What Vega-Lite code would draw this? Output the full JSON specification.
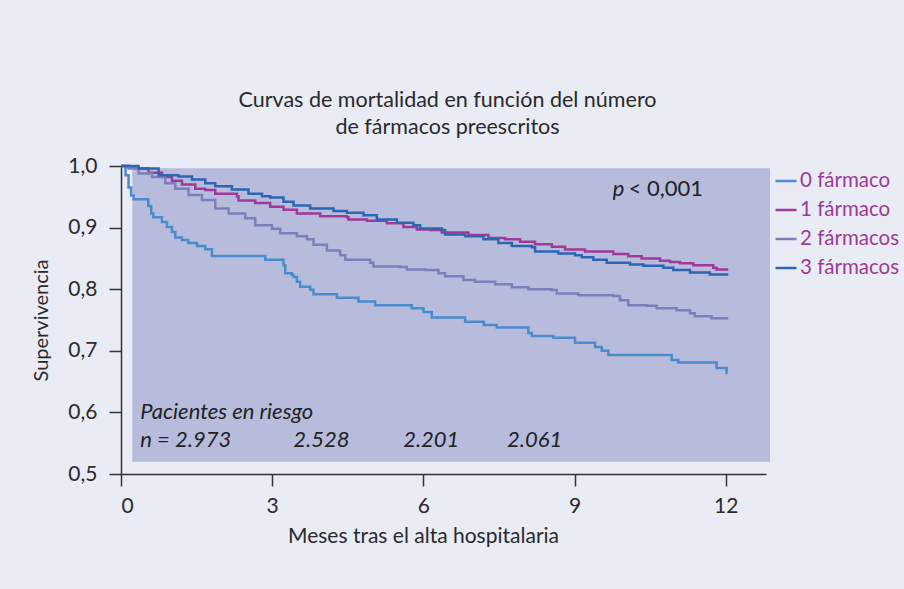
{
  "$schema": "https://vega.github.io/schema/vega-lite/v6.json",
  "autosize": {"type": "none"},
  "width": 645,
  "height": 308,
  "padding": {"left": 121, "top": 166, "right": 138, "bottom": 115},
  "background": "#e9ebf5",
  "config": {
    "view": {"stroke": null},
    "font": "Lato",
    "axis": {"grid": false, "domainColor": "#333333", "tickColor": "#333333", "domainWidth": 1.5, "tickWidth": 1.5, "labelColor": "#2a2a2a", "titleColor": "#2a2a2a", "labelFont": "Lato", "titleFont": "Lato", "labelFontSize": 21, "titleFontSize": 21, "titleFontWeight": "normal", "tickSize": 12}
  },
  "title": {
    "text": ["Curvas de mortalidad en función del número", "de fármacos preescritos"],
    "anchor": "middle",
    "font": "Lato",
    "fontSize": 21.5,
    "fontWeight": "normal",
    "color": "#2a2a2a",
    "lineHeight": 27,
    "offset": 17,
    "dx": 4
  },
  "datasets": {
    "curvas": [
      {"serie": "0 fármaco", "mes": 0, "supervivencia": 1.0},
      {"serie": "0 fármaco", "mes": 0.09, "supervivencia": 0.985},
      {"serie": "0 fármaco", "mes": 0.15, "supervivencia": 0.965},
      {"serie": "0 fármaco", "mes": 0.2, "supervivencia": 0.952},
      {"serie": "0 fármaco", "mes": 0.25, "supervivencia": 0.946},
      {"serie": "0 fármaco", "mes": 0.541, "supervivencia": 0.935},
      {"serie": "0 fármaco", "mes": 0.6, "supervivencia": 0.923},
      {"serie": "0 fármaco", "mes": 0.641, "supervivencia": 0.917},
      {"serie": "0 fármaco", "mes": 0.813, "supervivencia": 0.909},
      {"serie": "0 fármaco", "mes": 0.912, "supervivencia": 0.901},
      {"serie": "0 fármaco", "mes": 1.011, "supervivencia": 0.893},
      {"serie": "0 fármaco", "mes": 1.077, "supervivencia": 0.884},
      {"serie": "0 fármaco", "mes": 1.21, "supervivencia": 0.88},
      {"serie": "0 fármaco", "mes": 1.335, "supervivencia": 0.875},
      {"serie": "0 fármaco", "mes": 1.507, "supervivencia": 0.87},
      {"serie": "0 fármaco", "mes": 1.672, "supervivencia": 0.865},
      {"serie": "0 fármaco", "mes": 1.805, "supervivencia": 0.854},
      {"serie": "0 fármaco", "mes": 2.862, "supervivencia": 0.848},
      {"serie": "0 fármaco", "mes": 3.225, "supervivencia": 0.839},
      {"serie": "0 fármaco", "mes": 3.259, "supervivencia": 0.826},
      {"serie": "0 fármaco", "mes": 3.392, "supervivencia": 0.823},
      {"serie": "0 fármaco", "mes": 3.423, "supervivencia": 0.82},
      {"serie": "0 fármaco", "mes": 3.491, "supervivencia": 0.812},
      {"serie": "0 fármaco", "mes": 3.556, "supervivencia": 0.804},
      {"serie": "0 fármaco", "mes": 3.754, "supervivencia": 0.799},
      {"serie": "0 fármaco", "mes": 3.82, "supervivencia": 0.792},
      {"serie": "0 fármaco", "mes": 4.284, "supervivencia": 0.786},
      {"serie": "0 fármaco", "mes": 4.712, "supervivencia": 0.78},
      {"serie": "0 fármaco", "mes": 5.044, "supervivencia": 0.774},
      {"serie": "0 fármaco", "mes": 5.771, "supervivencia": 0.769},
      {"serie": "0 fármaco", "mes": 6.002, "supervivencia": 0.763},
      {"serie": "0 fármaco", "mes": 6.168, "supervivencia": 0.754},
      {"serie": "0 fármaco", "mes": 6.829, "supervivencia": 0.747},
      {"serie": "0 fármaco", "mes": 7.2, "supervivencia": 0.742},
      {"serie": "0 fármaco", "mes": 7.457, "supervivencia": 0.738},
      {"serie": "0 fármaco", "mes": 8.084, "supervivencia": 0.729},
      {"serie": "0 fármaco", "mes": 8.152, "supervivencia": 0.724},
      {"serie": "0 fármaco", "mes": 8.58, "supervivencia": 0.721},
      {"serie": "0 fármaco", "mes": 9.01, "supervivencia": 0.713},
      {"serie": "0 fármaco", "mes": 9.407, "supervivencia": 0.706},
      {"serie": "0 fármaco", "mes": 9.54, "supervivencia": 0.7},
      {"serie": "0 fármaco", "mes": 9.671, "supervivencia": 0.693},
      {"serie": "0 fármaco", "mes": 10.928, "supervivencia": 0.685},
      {"serie": "0 fármaco", "mes": 11.059, "supervivencia": 0.681},
      {"serie": "0 fármaco", "mes": 11.82, "supervivencia": 0.672},
      {"serie": "0 fármaco", "mes": 12.019, "supervivencia": 0.664},
      {"serie": "0 fármaco", "mes": 12.04, "supervivencia": 0.664},

      {"serie": "1 fármaco", "mes": 0, "supervivencia": 1.0},
      {"serie": "1 fármaco", "mes": 0.15, "supervivencia": 0.998},
      {"serie": "1 fármaco", "mes": 0.284, "supervivencia": 0.996},
      {"serie": "1 fármaco", "mes": 0.547, "supervivencia": 0.989},
      {"serie": "1 fármaco", "mes": 0.813, "supervivencia": 0.982},
      {"serie": "1 fármaco", "mes": 1.011, "supervivencia": 0.976},
      {"serie": "1 fármaco", "mes": 1.21, "supervivencia": 0.97},
      {"serie": "1 fármaco", "mes": 1.474, "supervivencia": 0.963},
      {"serie": "1 fármaco", "mes": 1.672, "supervivencia": 0.961},
      {"serie": "1 fármaco", "mes": 1.87, "supervivencia": 0.955},
      {"serie": "1 fármaco", "mes": 2.301, "supervivencia": 0.951},
      {"serie": "1 fármaco", "mes": 2.332, "supervivencia": 0.944},
      {"serie": "1 fármaco", "mes": 2.664, "supervivencia": 0.94},
      {"serie": "1 fármaco", "mes": 2.961, "supervivencia": 0.934},
      {"serie": "1 fármaco", "mes": 3.225, "supervivencia": 0.929},
      {"serie": "1 fármaco", "mes": 3.491, "supervivencia": 0.923},
      {"serie": "1 fármaco", "mes": 3.953, "supervivencia": 0.9185},
      {"serie": "1 fármaco", "mes": 4.482, "supervivencia": 0.917},
      {"serie": "1 fármaco", "mes": 4.514, "supervivencia": 0.913},
      {"serie": "1 fármaco", "mes": 4.879, "supervivencia": 0.911},
      {"serie": "1 fármaco", "mes": 5.276, "supervivencia": 0.907},
      {"serie": "1 fármaco", "mes": 5.605, "supervivencia": 0.901},
      {"serie": "1 fármaco", "mes": 5.871, "supervivencia": 0.897},
      {"serie": "1 fármaco", "mes": 6.134, "supervivencia": 0.896},
      {"serie": "1 fármaco", "mes": 6.366, "supervivencia": 0.892},
      {"serie": "1 fármaco", "mes": 6.894, "supervivencia": 0.888},
      {"serie": "1 fármaco", "mes": 7.291, "supervivencia": 0.883},
      {"serie": "1 fármaco", "mes": 7.622, "supervivencia": 0.881},
      {"serie": "1 fármaco", "mes": 7.919, "supervivencia": 0.877},
      {"serie": "1 fármaco", "mes": 8.217, "supervivencia": 0.873},
      {"serie": "1 fármaco", "mes": 8.548, "supervivencia": 0.869},
      {"serie": "1 fármaco", "mes": 8.812, "supervivencia": 0.8645},
      {"serie": "1 fármaco", "mes": 9.209, "supervivencia": 0.861},
      {"serie": "1 fármaco", "mes": 9.77, "supervivencia": 0.857},
      {"serie": "1 fármaco", "mes": 10.067, "supervivencia": 0.8536},
      {"serie": "1 fármaco", "mes": 10.333, "supervivencia": 0.85},
      {"serie": "1 fármaco", "mes": 10.696, "supervivencia": 0.846},
      {"serie": "1 fármaco", "mes": 10.894, "supervivencia": 0.844},
      {"serie": "1 fármaco", "mes": 11.093, "supervivencia": 0.842},
      {"serie": "1 fármaco", "mes": 11.357, "supervivencia": 0.839},
      {"serie": "1 fármaco", "mes": 11.753, "supervivencia": 0.835},
      {"serie": "1 fármaco", "mes": 11.82, "supervivencia": 0.832},
      {"serie": "1 fármaco", "mes": 12.051, "supervivencia": 0.832},

      {"serie": "2 fármacos", "mes": 0, "supervivencia": 1.0},
      {"serie": "2 fármacos", "mes": 0.151, "supervivencia": 0.996},
      {"serie": "2 fármacos", "mes": 0.349, "supervivencia": 0.988},
      {"serie": "2 fármacos", "mes": 0.615, "supervivencia": 0.982},
      {"serie": "2 fármacos", "mes": 0.879, "supervivencia": 0.972},
      {"serie": "2 fármacos", "mes": 1.077, "supervivencia": 0.963},
      {"serie": "2 fármacos", "mes": 1.341, "supervivencia": 0.953},
      {"serie": "2 fármacos", "mes": 1.607, "supervivencia": 0.945},
      {"serie": "2 fármacos", "mes": 1.87, "supervivencia": 0.931},
      {"serie": "2 fármacos", "mes": 2.134, "supervivencia": 0.923},
      {"serie": "2 fármacos", "mes": 2.465, "supervivencia": 0.915},
      {"serie": "2 fármacos", "mes": 2.664, "supervivencia": 0.904},
      {"serie": "2 fármacos", "mes": 2.995, "supervivencia": 0.898},
      {"serie": "2 fármacos", "mes": 3.159, "supervivencia": 0.891},
      {"serie": "2 fármacos", "mes": 3.491, "supervivencia": 0.886},
      {"serie": "2 fármacos", "mes": 3.689, "supervivencia": 0.881},
      {"serie": "2 fármacos", "mes": 3.82, "supervivencia": 0.872},
      {"serie": "2 fármacos", "mes": 4.086, "supervivencia": 0.863},
      {"serie": "2 fármacos", "mes": 4.349, "supervivencia": 0.855},
      {"serie": "2 fármacos", "mes": 4.449, "supervivencia": 0.848},
      {"serie": "2 fármacos", "mes": 4.944, "supervivencia": 0.843},
      {"serie": "2 fármacos", "mes": 5.01, "supervivencia": 0.837},
      {"serie": "2 fármacos", "mes": 5.539, "supervivencia": 0.836},
      {"serie": "2 fármacos", "mes": 5.672, "supervivencia": 0.832},
      {"serie": "2 fármacos", "mes": 6.035, "supervivencia": 0.831},
      {"serie": "2 fármacos", "mes": 6.299, "supervivencia": 0.826},
      {"serie": "2 fármacos", "mes": 6.432, "supervivencia": 0.821},
      {"serie": "2 fármacos", "mes": 6.795, "supervivencia": 0.815},
      {"serie": "2 fármacos", "mes": 7.027, "supervivencia": 0.812},
      {"serie": "2 fármacos", "mes": 7.424, "supervivencia": 0.808},
      {"serie": "2 fármacos", "mes": 7.755, "supervivencia": 0.803},
      {"serie": "2 fármacos", "mes": 8.084, "supervivencia": 0.8},
      {"serie": "2 fármacos", "mes": 8.548, "supervivencia": 0.7985},
      {"serie": "2 fármacos", "mes": 8.647, "supervivencia": 0.793},
      {"serie": "2 fármacos", "mes": 9.076, "supervivencia": 0.79},
      {"serie": "2 fármacos", "mes": 9.77, "supervivencia": 0.789},
      {"serie": "2 fármacos", "mes": 9.903, "supervivencia": 0.782},
      {"serie": "2 fármacos", "mes": 10.067, "supervivencia": 0.774},
      {"serie": "2 fármacos", "mes": 10.43, "supervivencia": 0.773},
      {"serie": "2 fármacos", "mes": 10.631, "supervivencia": 0.769},
      {"serie": "2 fármacos", "mes": 11.027, "supervivencia": 0.766},
      {"serie": "2 fármacos", "mes": 11.291, "supervivencia": 0.761},
      {"serie": "2 fármacos", "mes": 11.387, "supervivencia": 0.756},
      {"serie": "2 fármacos", "mes": 11.718, "supervivencia": 0.753},
      {"serie": "2 fármacos", "mes": 12.051, "supervivencia": 0.753},

      {"serie": "3 fármacos", "mes": 0, "supervivencia": 1.0},
      {"serie": "3 fármacos", "mes": 0.284, "supervivencia": 1.0},
      {"serie": "3 fármacos", "mes": 0.349, "supervivencia": 0.996},
      {"serie": "3 fármacos", "mes": 0.746, "supervivencia": 0.985},
      {"serie": "3 fármacos", "mes": 1.142, "supervivencia": 0.983},
      {"serie": "3 fármacos", "mes": 1.408, "supervivencia": 0.978},
      {"serie": "3 fármacos", "mes": 1.672, "supervivencia": 0.972},
      {"serie": "3 fármacos", "mes": 1.87, "supervivencia": 0.967},
      {"serie": "3 fármacos", "mes": 2.201, "supervivencia": 0.962},
      {"serie": "3 fármacos", "mes": 2.531, "supervivencia": 0.955},
      {"serie": "3 fármacos", "mes": 2.797, "supervivencia": 0.951},
      {"serie": "3 fármacos", "mes": 2.961, "supervivencia": 0.949},
      {"serie": "3 fármacos", "mes": 3.225, "supervivencia": 0.942},
      {"serie": "3 fármacos", "mes": 3.423, "supervivencia": 0.936},
      {"serie": "3 fármacos", "mes": 3.754, "supervivencia": 0.931},
      {"serie": "3 fármacos", "mes": 4.217, "supervivencia": 0.927},
      {"serie": "3 fármacos", "mes": 4.482, "supervivencia": 0.924},
      {"serie": "3 fármacos", "mes": 4.812, "supervivencia": 0.92},
      {"serie": "3 fármacos", "mes": 5.077, "supervivencia": 0.913},
      {"serie": "3 fármacos", "mes": 5.474, "supervivencia": 0.908},
      {"serie": "3 fármacos", "mes": 5.803, "supervivencia": 0.904},
      {"serie": "3 fármacos", "mes": 5.936, "supervivencia": 0.8985},
      {"serie": "3 fármacos", "mes": 6.366, "supervivencia": 0.896},
      {"serie": "3 fármacos", "mes": 6.432, "supervivencia": 0.889},
      {"serie": "3 fármacos", "mes": 6.829, "supervivencia": 0.886},
      {"serie": "3 fármacos", "mes": 7.192, "supervivencia": 0.881},
      {"serie": "3 fármacos", "mes": 7.489, "supervivencia": 0.875},
      {"serie": "3 fármacos", "mes": 7.755, "supervivencia": 0.87},
      {"serie": "3 fármacos", "mes": 8.152, "supervivencia": 0.868},
      {"serie": "3 fármacos", "mes": 8.217, "supervivencia": 0.861},
      {"serie": "3 fármacos", "mes": 8.679, "supervivencia": 0.858},
      {"serie": "3 fármacos", "mes": 9.01, "supervivencia": 0.855},
      {"serie": "3 fármacos", "mes": 9.143, "supervivencia": 0.852},
      {"serie": "3 fármacos", "mes": 9.373, "supervivencia": 0.848},
      {"serie": "3 fármacos", "mes": 9.639, "supervivencia": 0.843},
      {"serie": "3 fármacos", "mes": 10.101, "supervivencia": 0.84},
      {"serie": "3 fármacos", "mes": 10.365, "supervivencia": 0.838},
      {"serie": "3 fármacos", "mes": 10.762, "supervivencia": 0.835},
      {"serie": "3 fármacos", "mes": 10.96, "supervivencia": 0.831},
      {"serie": "3 fármacos", "mes": 11.291, "supervivencia": 0.827},
      {"serie": "3 fármacos", "mes": 11.685, "supervivencia": 0.824},
      {"serie": "3 fármacos", "mes": 12.051, "supervivencia": 0.824}
    ]
  },
  "layer": [
    {
      "data": {"values": [{}]},
      "mark": {"type": "rect", "color": "#b7bcdc"},
      "encoding": {
        "x": {"datum": 0.224, "type": "quantitative"},
        "x2": {"datum": 12.88},
        "y": {"datum": 0.9963, "type": "quantitative"},
        "y2": {"datum": 0.52}
      }
    },
    {
      "data": {"name": "curvas"},
      "mark": {"type": "line", "interpolate": "step-after", "strokeWidth": 2.5},
      "encoding": {
        "x": {
          "field": "mes", "type": "quantitative",
          "scale": {"domain": [0, 12.8], "nice": false, "zero": false},
          "axis": {"values": [0, 3, 6, 9, 12], "title": "Meses tras el alta hospitalaria", "labelPadding": 9, "titleX": 302, "titleY": 68, "titleBaseline": "alphabetic", "titleAnchor": null, "titleAlign": "center"}
        },
        "y": {
          "field": "supervivencia", "type": "quantitative",
          "scale": {"domain": [0.5, 1.0], "nice": false, "zero": false},
          "axis": {"values": [0.5, 0.6, 0.7, 0.8, 0.9, 1.0], "labelExpr": "replace(format(datum.value, '.1f'), '.', ',')", "labelPadding": 12, "title": "Supervivencia", "titleX": -74, "titleY": 154, "titleAngle": -90, "titleBaseline": "alphabetic", "titleAlign": "center", "titleFontSize": 20}
        },
        "color": {
          "field": "serie", "type": "nominal",
          "scale": {"domain": ["0 fármaco", "1 fármaco", "2 fármacos", "3 fármacos"], "range": ["#4b8bcc", "#a03a98", "#7b80ba", "#2c66b2"]},
          "legend": {"title": null, "orient": "none", "legendX": 653, "legendY": 3, "symbolType": "stroke", "symbolSize": 440, "symbolStrokeWidth": 2.5, "labelFont": "Lato", "labelFontSize": 20.5, "labelColor": "#9c3b95", "labelOffset": 2, "rowPadding": 6, "labelLimit": 200}
        }
      }
    },
    {
      "data": {"values": [{}]},
      "mark": {"type": "text", "text": "p", "fontStyle": "italic", "fontSize": 22, "font": "Lato", "align": "left", "baseline": "alphabetic", "color": "#222222"},
      "encoding": {"x": {"datum": 9.76, "type": "quantitative"}, "y": {"datum": 0.951, "type": "quantitative"}}
    },
    {
      "data": {"values": [{}]},
      "mark": {"type": "text", "text": "< 0,001", "fontSize": 22, "font": "Lato", "align": "right", "baseline": "alphabetic", "color": "#222222"},
      "encoding": {"x": {"datum": 11.55, "type": "quantitative"}, "y": {"datum": 0.951, "type": "quantitative"}}
    },
    {
      "data": {"values": [
        {"texto": "Pacientes en riesgo", "mes": 0.383, "nivel": 0.5895},
        {"texto": "n = 2.973", "mes": 0.383, "nivel": 0.544},
        {"texto": "2.528", "mes": 3.42, "nivel": 0.544},
        {"texto": "2.201", "mes": 5.6, "nivel": 0.544},
        {"texto": "2.061", "mes": 7.66, "nivel": 0.544}
      ]},
      "mark": {"type": "text", "fontStyle": "italic", "fontSize": 22, "font": "Lato", "align": "left", "baseline": "alphabetic", "color": "#222222"},
      "encoding": {
        "x": {"field": "mes", "type": "quantitative"},
        "y": {"field": "nivel", "type": "quantitative"},
        "text": {"field": "texto"}
      }
    }
  ]
}
